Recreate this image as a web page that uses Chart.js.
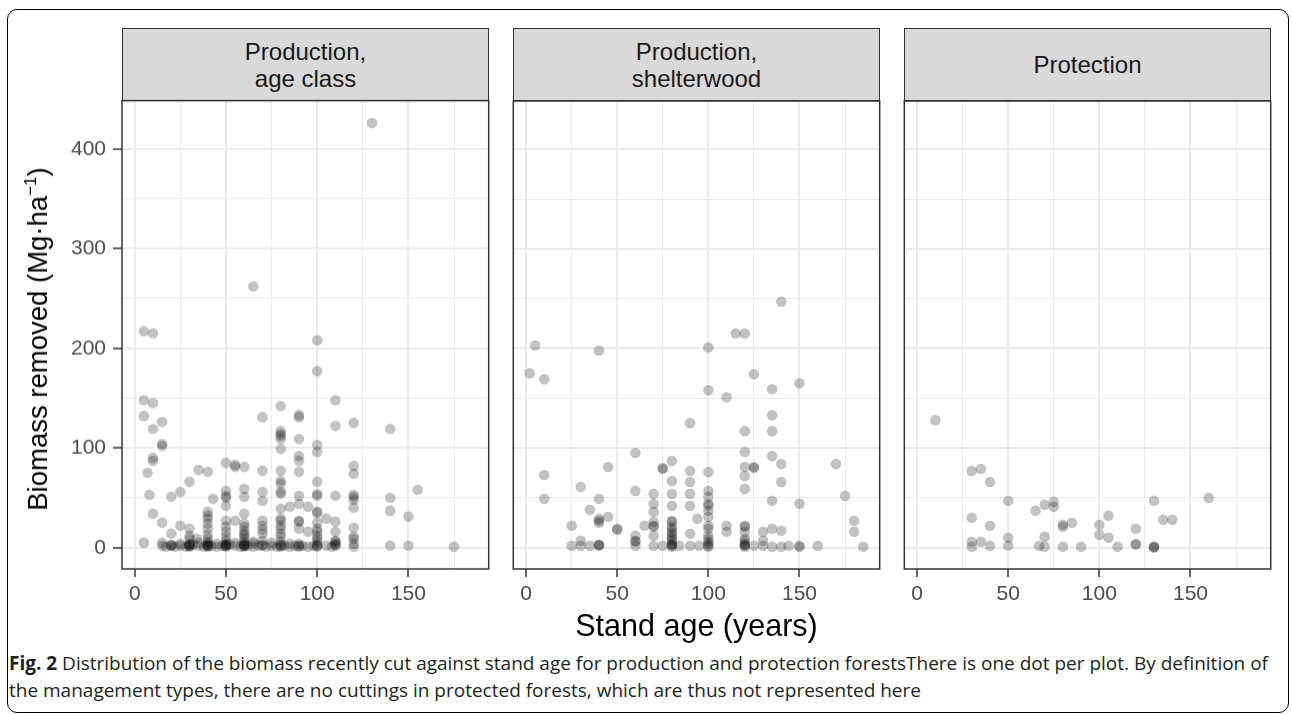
<!DOCTYPE html>
<html>
<head>
<meta charset="utf-8">
<script src="https://cdn.jsdelivr.net/npm/chart.js@4.4.1/dist/chart.umd.min.js"></script>
<style>
  body { margin: 0; background: #fff; width: 1292px; height: 714px; position: relative; overflow: hidden; font-family: "Liberation Sans", Arial, sans-serif; }
  .frame { position: absolute; left: 7px; top: 9px; width: 1280px; height: 702px; border: 1.5px solid #000; border-radius: 10px; }
  .strip { position: absolute; top: 28px; height: 71px; width: 365px; background: #d9d9d9; border: 1.5px solid #333; display: flex; align-items: center; justify-content: center; text-align: center; font-size: 24px; line-height: 27px; color: #1a1a1a; }
  canvas { position: absolute; }
  .xtitle { position: absolute; left: 122px; width: 1149px; top: 608px; text-align: center; font-size: 30.5px; color: #000; }
  .ytitle { position: absolute; left: 38px; top: 339px; transform: translate(-50%, -50%) rotate(-90deg); white-space: nowrap; font-size: 27.5px; color: #000; }
  .ytitle sup { font-size: 17px; vertical-align: 11px; line-height: 0; }
  .caption { position: absolute; left: 9px; top: 650px; width: 1278px; font-family: "Open Sans", sans-serif; font-size: 19px; line-height: 27px; color: #231f20; white-space: nowrap; }
</style>
</head>
<body>
<div class="frame"></div>
<div class="strip" style="left:122px">Production,<br>age class</div>
<div class="strip" style="left:513px">Production,<br>shelterwood</div>
<div class="strip" style="left:904px">Protection</div>
<canvas id="c1"></canvas>
<canvas id="c2"></canvas>
<canvas id="c3"></canvas>
<div class="ytitle">Biomass removed (Mg·ha<sup>−1</sup>)</div>
<div class="xtitle">Stand age (years)</div>
<div class="caption"><b>Fig. 2</b> Distribution of the biomass recently cut against stand age for production and protection forestsThere is one dot per plot. By definition of<br>the management types, there are no cuttings in protected forests, which are thus not represented here</div>
<script>
// facet titles
const panelNames = ["Production, age class", "Production, shelterwood", "Protection"];

// axis ticks
const xMajorTicks = [0, 50, 100, 150];
const xMinorTicks = [25, 75, 125, 175];
const yMajorTicks = [0, 100, 200, 300, 400];
const yMinorTicks = [50, 150, 250, 350];
const xRange = [-7, 194];
const yRange = [-21.4, 448.4];

// Production, age class : stand age (years) / biomass removed (Mg/ha)
const ageClassAge = [130, 65, 5, 10, 100, 100, 5, 10, 110, 80, 5, 70, 90, 90, 15, 110, 120, 10, 140, 80, 80, 80, 80, 90,
  15, 15, 100, 80, 100, 10, 10, 90, 90, 50, 55, 55, 60, 35, 40, 70, 80, 90, 7, 120, 120, 30, 80, 80, 100, 25, 8, 20, 43,
  50, 50, 50, 50, 60, 60, 70, 70, 80, 80, 90, 90, 100, 100, 110, 120, 120, 120, 140, 155, 140, 150, 85, 95, 100, 100,
  105, 110, 120, 120, 120, 10, 15, 25, 20, 5, 40, 40, 40, 40, 60, 50, 55, 70, 70, 80, 80, 80, 80, 90, 90, 100, 100, 110,
  110, 110, 30, 30, 34, 40, 40, 50, 50, 50, 60, 60, 60, 60, 65, 70, 70, 80, 80, 80, 90, 90, 95, 100, 100, 100, 110, 120,
  120, 140, 150, 175,
  15, 17, 20, 22, 25, 28, 30, 30, 32, 35, 38, 40, 40, 42, 45, 48, 50, 50, 52, 55, 58, 60, 60, 62, 65, 68, 70, 72, 75, 78,
  80, 80, 82, 85, 88, 90, 90, 92, 95, 98, 100, 100, 105, 108, 110,
  20, 20, 30, 30, 40, 40, 50, 50, 60, 60, 60, 60, 30, 30, 40, 40, 40, 50, 50, 60, 60, 70, 70, 80, 80, 100, 100, 120,
  15, 25, 35, 45, 55, 65, 75, 85, 110];
const ageClassBiomass = [426, 262, 217, 215, 208, 177, 148, 145, 148, 142, 132, 131, 133, 131, 126, 122, 125, 119, 119, 117,
  114, 112, 109, 109, 104, 102, 103, 99, 96, 90, 87, 92, 87, 85, 83, 81, 81, 78, 76, 77, 77, 76, 75, 82, 74, 66, 67, 64, 66,
  56, 53, 51, 49, 57, 52, 50, 42, 59, 51, 56, 47, 56, 54, 52, 44, 54, 52, 52, 53, 51, 48, 50, 58, 37, 31, 41, 41, 36, 35,
  29, 26, 40, 20, 11, 34, 25, 22, 14, 5, 36, 32, 29, 19, 34, 27, 27, 27, 22, 39, 29, 27, 19, 26, 19, 19, 16, 16,
  7, 6, 19, 9, 9, 9, 4, 21, 11, 4, 21, 14, 9, 4, 6, 14, 7, 22, 14, 6, 27, 4, 16, 12, 9, 6, 4, 9,
  1, 2, 2, 1,
  2, 1, 2, 1, 2, 1, 2, 1, 3, 2, 1, 2, 1, 2, 1, 2, 2, 1, 3, 2, 1, 2, 1, 2, 1, 2, 2, 1, 2, 1,
  2, 1, 2, 1, 2, 2, 1, 2, 1, 2, 2, 1, 2, 1, 2,
  2, 3, 2, 4, 2, 6, 2, 7, 2, 6, 12, 17, 3, 12, 3, 13, 24, 3, 16, 3, 24, 3, 18, 3, 11, 3, 25, 4,
  5, 4, 5, 4, 5, 4, 5, 4, 3];

// Production, shelterwood
const shelterAge = [140, 115, 120, 5, 40, 100, 2, 10, 125, 150, 100, 135, 110, 135, 135, 120, 90, 60, 120, 135, 80, 75, 75,
  120, 125, 125, 120, 140, 170, 10, 45, 90, 100, 80, 90, 140, 60, 30, 70, 80, 90, 100, 100, 120, 175, 10, 40, 135, 150,
  35, 70, 80, 90, 100, 100, 70, 100, 100, 40, 40, 40, 45, 50, 50, 25, 65, 70, 70, 70, 80, 80, 80, 80, 80, 80, 80, 94,
  100, 100, 100, 100, 110, 110, 120, 120, 120, 130, 135, 140, 180, 180, 90, 60, 60, 60, 30, 120, 130,
  25, 30, 35, 40, 40, 60, 70, 75, 80, 80, 80, 84, 90, 95, 100, 100, 120, 120, 120, 125, 130, 135, 140, 144, 150, 150, 160, 185,
  80, 80, 80, 100, 100, 120, 120, 70, 40];
const shelterBiomass = [247, 215, 215, 203, 198, 201, 175, 169, 174, 165, 158, 159, 151, 133, 117, 117, 125, 95, 96, 92, 87,
  79, 80, 81, 81, 80, 72, 84, 84, 73, 81, 77, 76, 67, 66, 66, 57, 61, 54, 54, 54, 57, 51, 59, 52, 49, 49, 47, 44,
  38, 44, 42, 42, 44, 42, 36, 37, 31, 27, 29, 25, 31, 19, 18, 22, 22, 26, 22, 21, 27, 26, 21, 16, 14, 9, 7, 29,
  22, 19, 12, 6, 22, 16, 22, 21, 16, 16, 19, 17, 27, 16, 14, 12, 7, 6, 7, 7, 7,
  2, 2, 2, 2, 3, 2, 2, 2, 1, 2, 3, 2, 2, 2, 1, 2, 1, 2, 3, 2, 2, 1, 1, 2, 1, 2, 2, 1,
  4, 11, 19, 4, 9, 4, 9, 12, 3];

// Protection
const protectionAge = [10, 30, 35, 40, 50, 160, 130, 65, 70, 75, 75, 105, 30, 135, 140, 80, 80, 85, 100, 40, 120, 100, 105,
  50, 70, 30, 35, 30, 40, 50, 67, 70, 80, 90, 110, 120, 120, 130, 130, 130];
const protectionBiomass = [128, 77, 79, 66, 47, 50, 47, 37, 43, 46, 41, 32, 30, 28, 28, 23, 21, 25, 23, 22, 19, 13, 10,
  10, 11, 6, 6, 1, 2, 2, 2, 1, 1, 1, 1, 4, 3, 1, 1, 0];

const panelAges = [ageClassAge, shelterAge, protectionAge];
const panelBiomass = [ageClassBiomass, shelterBiomass, protectionBiomass];

const panelLefts = [122, 513, 904];
const plotW = 367, plotTop = 101, plotH = 468;
const padTop = 10, xAxisH = 45, padRight = 3;

Chart.defaults.font.family = '"Liberation Sans", Arial, sans-serif';

const panelBorder = {
  id: 'panelBorder',
  afterDraw(chart) {
    const a = chart.chartArea;
    const ctx = chart.ctx;
    ctx.save();
    ctx.strokeStyle = '#333';
    ctx.lineWidth = 1.5;
    ctx.strokeRect(a.left, a.top, a.right - a.left, a.bottom - a.top);
    ctx.restore();
  }
};

function isMajor(list, v) {
  return list.indexOf(v) !== -1;
}

function buildChart(i, canvas, w, h, yW) {
  canvas.width = w;
  canvas.height = h;
  canvas.style.width = w + 'px';
  canvas.style.height = h + 'px';
  const pts = panelAges[i].map((x, k) => ({ x: x, y: panelBiomass[i][k] }));
  return new Chart(canvas, {
    type: 'scatter',
    data: {
      datasets: [{
        label: panelNames[i],
        data: pts,
        pointRadius: 5.3,
        pointHoverRadius: 5.3,
        backgroundColor: 'rgba(0,0,0,0.24)',
        borderWidth: 0
      }]
    },
    options: {
      responsive: false,
      animation: false,
      devicePixelRatio: 1,
      layout: { padding: { top: padTop, right: padRight, left: 0, bottom: 0 } },
      plugins: { legend: { display: false }, tooltip: { enabled: false } },
      scales: {
        x: {
          type: 'linear',
          min: xRange[0],
          max: xRange[1],
          afterBuildTicks: s => { s.ticks = xMajorTicks.concat(xMinorTicks).sort((a, b) => a - b).map(v => ({ value: v })); },
          afterFit: s => { s.height = xAxisH; },
          border: { display: false },
          grid: {
            color: '#ebebeb',
            lineWidth: c => isMajor(xMajorTicks, c.tick.value) ? 2 : 1,
            tickColor: c => isMajor(xMajorTicks, c.tick.value) ? '#333' : 'rgba(0,0,0,0)',
            tickWidth: 1.5,
            tickLength: 8
          },
          ticks: {
            autoSkip: false,
            maxRotation: 0,
            padding: 5,
            color: '#4d4d4d',
            font: { size: 21 },
            callback: v => isMajor(xMajorTicks, v) ? String(v) : ''
          }
        },
        y: {
          type: 'linear',
          min: yRange[0],
          max: yRange[1],
          afterBuildTicks: s => { s.ticks = yMajorTicks.concat(yMinorTicks).sort((a, b) => a - b).map(v => ({ value: v })); },
          afterFit: s => { s.width = yW; },
          border: { display: false },
          grid: {
            color: '#ebebeb',
            lineWidth: c => isMajor(yMajorTicks, c.tick.value) ? 2 : 1,
            tickColor: c => isMajor(yMajorTicks, c.tick.value) ? '#333' : 'rgba(0,0,0,0)',
            tickWidth: 1.5,
            tickLength: 9,
            drawTicks: i === 0
          },
          ticks: {
            display: i === 0,
            autoSkip: false,
            padding: 7,
            color: '#4d4d4d',
            font: { size: 21 },
            callback: v => isMajor(yMajorTicks, v) ? String(v) : ''
          }
        }
      }
    },
    plugins: [panelBorder]
  });
}

function makePanel(i) {
  const yW = i === 0 ? 122 : 4;
  const canvas = document.getElementById('c' + (i + 1));
  let w = yW + plotW + padRight;
  let h = padTop + plotH + xAxisH;
  let chart = buildChart(i, canvas, w, h, yW);
  // Chart.js may add its own padding, so size the canvas until the plot area is right
  const a = chart.chartArea;
  const dw = plotW - (a.right - a.left);
  const dh = plotH - (a.bottom - a.top);
  if (dw !== 0 || dh !== 0) {
    chart.destroy();
    w += dw;
    h += dh;
    chart = buildChart(i, canvas, w, h, yW);
  }
  canvas.style.left = (panelLefts[i] - chart.chartArea.left) + 'px';
  canvas.style.top = (plotTop - chart.chartArea.top) + 'px';
}

[0, 1, 2].forEach(makePanel);
</script>
</body>
</html>
